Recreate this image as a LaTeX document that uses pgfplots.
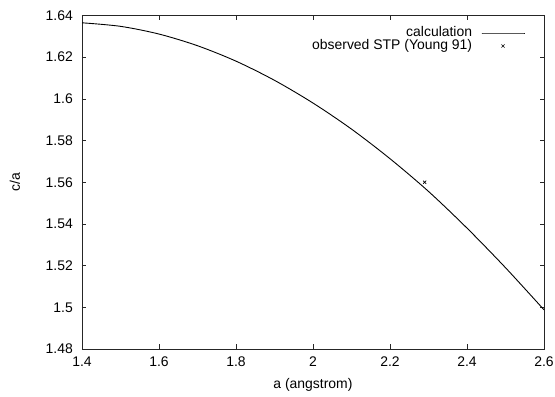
\documentclass[border=0pt]{standalone}
\usepackage{pgfplots}
\pgfplotsset{compat=1.18}
\usepackage{fontspec}
\setmainfont{Liberation Sans}
\begin{document}
\begin{tikzpicture}
\begin{axis}[
  scale only axis,
  width=462bp, height=333.5bp,
  xmin=1.4, xmax=2.6, ymin=1.48, ymax=1.64,
  xtick={1.4,1.6,...,2.6},
  ytick={1.48,1.50,...,1.64},
  /pgf/number format/assume math mode=true,
  tick align=inside,
  major tick length=4.5bp,
  tick style={black!85, line width=0.6pt},
  axis line style={black!85, line width=0.8pt},
  ticklabel style={font=\fontsize{14}{16}\selectfont},
  yticklabel style={inner sep=0pt, xshift=-9bp, /pgf/number format/fixed, /pgf/number format/precision=2},
  xticklabel style={inner sep=0pt, yshift=-7.5bp, /pgf/number format/fixed, /pgf/number format/precision=1},
  label style={font=\fontsize{14}{16}\selectfont},
  xlabel={a (angstrom)},
  ylabel={c/a},
  xlabel style={at={(axis description cs:0.5,-0.107)}, anchor=center},
  ylabel style={at={(axis description cs:-0.145,0.5)}, anchor=center},
  legend style={draw=none, fill=none, at={(0.9589,0.9715)}, anchor=north east,
    inner sep=0pt, outer sep=0pt,
    font=\fontsize{14}{16}\selectfont, legend cell align=right,
    row sep=-3bp, column sep=9bp,
    nodes={text height=10bp, text depth=3bp, inner xsep=0pt, inner ysep=1.5bp}},
  legend plot pos=right,
  legend image code/.code={%
    \draw[mark repeat=2,mark phase=2,#1] plot coordinates {(0bp,0bp) (21.5bp,0bp) (43bp,0bp)};},
]
\addplot[black, line width=0.9pt, smooth] coordinates {
(1.4,1.6365) (1.5,1.6348) (1.6,1.6311) (1.7,1.6255) (1.8,1.6181)
(1.9,1.6089) (2.0,1.5980) (2.1,1.5855) (2.2,1.5713) (2.3,1.5556)
(2.4,1.5380) (2.5,1.5190) (2.6,1.4988)
};
\addlegendentry{calculation}
\addplot[only marks, mark=x, mark size=2.2pt, black, line width=0.6pt] coordinates {(2.29,1.56)};
\addlegendentry{observed STP (Young 91)}
\end{axis}
\path[use as bounding box] ([shift={(-82bp,-48bp)}]current axis.south west) rectangle ([shift={(11bp,15.5bp)}]current axis.north east);
\end{tikzpicture}
\end{document}
